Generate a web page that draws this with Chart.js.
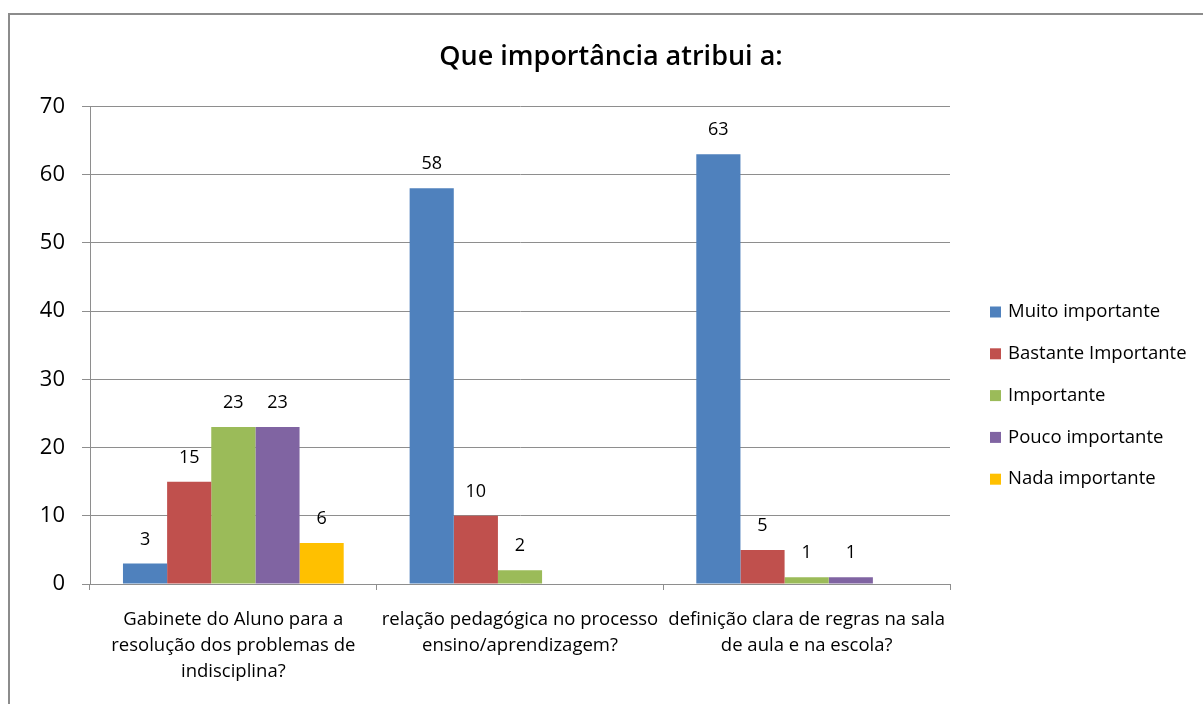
<!DOCTYPE html>
<html>
<head>
<meta charset="utf-8">
<script src="https://cdn.jsdelivr.net/npm/chart.js@4.4.1/dist/chart.umd.min.js"></script>
<style>
  body { margin: 0; background: #fff; overflow: hidden; }
  #frame { position: absolute; left: 8px; top: 13px; width: 1300px; height: 800px;
           border: 2px solid #8c8c8c; }
  #grafico { position: absolute; left: 20px; top: 0; }
</style>
</head>
<body>
<div id="frame"></div>
<canvas id="grafico" width="1183" height="704"></canvas>
<script>
var categorias = [
  ['Gabinete do Aluno para a', 'resolução dos problemas de', 'indisciplina?'],
  ['relação pedagógica no processo', 'ensino/aprendizagem?'],
  ['definição clara de regras na sala', 'de aula e na escola?']
];
var series = ['Muito importante', 'Bastante Importante', 'Importante', 'Pouco importante', 'Nada importante'];
var muito = [3, 58, 63];
var bastante = [15, 10, 5];
var importante = [23, 2, 1];
var pouco = [23, null, 1];
var nada = [6, null, null];
var cores = ['#4f81bd', '#c0504d', '#9bbb59', '#8064a2', '#ffc000'];
var yTicks = [0, 10, 20, 30, 40, 50, 60, 70];

var valores = [muito, bastante, importante, pouco, nada];

// rotulos por cima das barras
var rotulos = {
  id: 'rotulos',
  afterDatasetsDraw: function(chart){
    var ctx = chart.ctx;
    ctx.save();
    ctx.font = '18px "Open Sans"';
    ctx.fillStyle = '#000';
    ctx.textAlign = 'center';
    ctx.textBaseline = 'middle';
    chart.data.datasets.forEach(function(ds, i){
      var meta = chart.getDatasetMeta(i);
      meta.data.forEach(function(bar, j){
        if (ds.data[j] === null) return;
        ctx.fillText(ds.data[j], bar.x, bar.y - 24);
      });
    });
    ctx.restore();
  }
};

// legenda a direita
var legenda = {
  id: 'legenda',
  afterDraw: function(chart){
    var ctx = chart.ctx;
    var x = chart.chartArea.right + 40;
    var y0 = 312;
    ctx.save();
    ctx.font = '18.5px "Open Sans"';
    ctx.textBaseline = 'middle';
    ctx.textAlign = 'left';
    chart.data.datasets.forEach(function(ds, i){
      var y = y0 + i * 41.8;
      ctx.fillStyle = ds.backgroundColor;
      ctx.fillRect(x, y - 5.5, 11, 11);
      ctx.fillStyle = '#000';
      ctx.fillText(ds.label, x + 18, y);
    });
    ctx.restore();
  }
};

// titulo centrado na largura toda
var centraTitulo = {
  id: 'centraTitulo',
  afterLayout: function(chart){
    chart.titleBlock.left = 0;
    chart.titleBlock.right = chart.width - 1;
  }
};

var datasets = series.map(function(nome, i){
  return { label: nome, data: valores[i], backgroundColor: cores[i] };
});

new Chart(document.getElementById('grafico'), {
  type: 'bar',
  data: { labels: categorias, datasets: datasets },
  plugins: [rotulos, legenda, centraTitulo],
  options: {
    responsive: false,
    animation: false,
    layout: { padding: { left: 0, right: 253, top: 0, bottom: 0 } },
    datasets: { bar: { categoryPercentage: 0.77, barPercentage: 1 } },
    plugins: {
      legend: { display: false },
      tooltip: { enabled: false },
      title: {
        display: true,
        text: 'Que importância atribui a:',
        color: '#000',
        font: { family: 'Open Sans', size: 27, weight: '600', lineHeight: 1.2 },
        padding: { top: 41, bottom: 33 }
      }
    },
    scales: {
      x: {
        afterFit: function(s){ s.height = 120; },
        grid: { offset: true, drawOnChartArea: false, drawTicks: true, tickLength: 6, color: '#8e8e8e' },
        border: { color: '#8e8e8e', width: 1 },
        ticks: { color: '#000', padding: 17, maxRotation: 0, autoSkip: false,
                 font: { family: 'Open Sans', size: 18.5, lineHeight: 1.41 } }
      },
      y: {
        min: 0, max: 70,
        afterFit: function(s){ s.width = 70; },
        afterBuildTicks: function(s){ s.ticks = yTicks.map(function(v){ return { value: v }; }); },
        grid: { color: '#8e8e8e', tickLength: 8 },
        border: { color: '#8e8e8e', width: 1 },
        ticks: { color: '#000', padding: 17, font: { family: 'Open Sans', size: 22 } }
      }
    }
  }
});
</script>
</body>
</html>
